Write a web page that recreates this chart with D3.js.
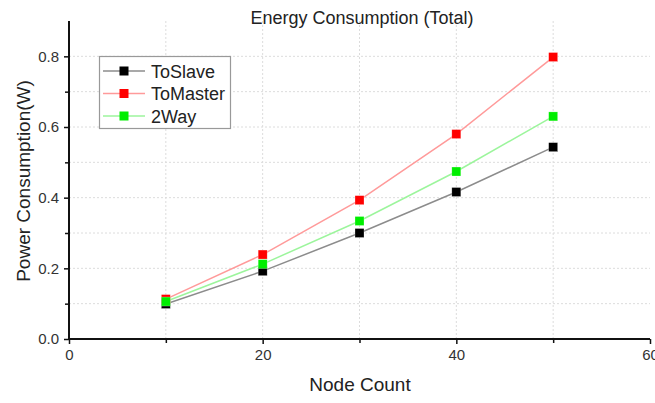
<!DOCTYPE html>
<html><head><meta charset="utf-8">
<script src="https://cdn.jsdelivr.net/npm/d3@7"></script>
<style>body{margin:0;background:#fff;}svg{display:block;font-family:"Liberation Sans",Arial,sans-serif;}</style>
</head><body>
<svg id="c" width="655" height="403"></svg>
<script>
const nodeCounts = [10, 20, 30, 40, 50];
const toSlave = [0.099, 0.192, 0.300, 0.416, 0.543];
const toMaster = [0.113, 0.239, 0.393, 0.580, 0.798];
const twoWay = [0.106, 0.212, 0.334, 0.474, 0.630];
const seriesNames = ["ToSlave", "ToMaster", "2Way"];
const xTicks = [0, 20, 40, 60];
const yTicks = [0.0, 0.2, 0.4, 0.6, 0.8];

const series = [
  {name: seriesNames[0], values: toSlave, line: "#8c8c8c", mark: "#000000"},
  {name: seriesNames[1], values: toMaster, line: "#ff9a9a", mark: "#ff0000"},
  {name: seriesNames[2], values: twoWay, line: "#9cf59c", mark: "#00ee00"}
];

const svg = d3.select("#c");
const x = d3.scaleLinear().domain([0, 60]).range([69, 650]);
const y = d3.scaleLinear().domain([0, 0.9]).range([339, 21]);

// grid
const g = svg.append("g");
g.selectAll(".gy").data(d3.range(1, 9).map(d => d / 10)).enter().append("line")
  .attr("x1", 69).attr("x2", 650).attr("y1", d => y(d)).attr("y2", d => y(d))
  .attr("stroke", "#dcdcdc").attr("stroke-dasharray", "2,2").attr("stroke-width", 1);
g.selectAll(".gx").data([10, 20, 30, 40, 50]).enter().append("line")
  .attr("y1", 21).attr("y2", 339).attr("x1", d => x(d)).attr("x2", d => x(d))
  .attr("stroke", "#dcdcdc").attr("stroke-dasharray", "2,2").attr("stroke-width", 1);

// axes
const xAxis = svg.append("g").attr("transform", "translate(0,339)")
  .call(d3.axisBottom(x).tickValues(xTicks).tickSize(5).tickPadding(5).tickFormat(d3.format("d")));
svg.append("g").attr("transform", "translate(0,339)")
  .call(d3.axisBottom(x).tickValues([10, 30, 50]).tickSize(4).tickFormat(""))
  .select(".domain").remove();
const yAxis = svg.append("g").attr("transform", "translate(69,0)")
  .call(d3.axisLeft(y).tickValues(yTicks).tickSize(5).tickPadding(5).tickFormat(d3.format(".1f")));
svg.append("g").attr("transform", "translate(69,0)")
  .call(d3.axisLeft(y).tickValues([0.1, 0.3, 0.5, 0.7]).tickSize(4).tickFormat(""))
  .select(".domain").remove();
svg.selectAll(".domain").attr("stroke", "#111").attr("stroke-width", 2);
svg.selectAll(".tick line").attr("stroke", "#111").attr("stroke-width", 1.5);
xAxis.selectAll("text").attr("font-size", 15).attr("fill", "#333").attr("font-family", "Liberation Sans, Arial, sans-serif");
yAxis.selectAll("text").attr("font-size", 15).attr("fill", "#333").attr("font-family", "Liberation Sans, Arial, sans-serif");
xAxis.select(".domain").attr("d", "M69,0H650");
yAxis.select(".domain").attr("d", "M0,339V21");

// lines & markers
const lineGen = d3.line().x((d, i) => x(nodeCounts[i])).y(d => y(d));
series.forEach(s => {
  svg.append("path").attr("d", lineGen(s.values)).attr("fill", "none")
    .attr("stroke", s.line).attr("stroke-width", 1.5);
});
series.forEach(s => {
  svg.selectAll(null).data(s.values).enter().append("rect")
    .attr("x", (d, i) => x(nodeCounts[i]) - 4.5).attr("y", d => y(d) - 4.5)
    .attr("width", 9).attr("height", 9).attr("fill", s.mark)
    .attr("stroke", "#fff").attr("stroke-opacity", 0.5).attr("stroke-width", 0.5);
});

// legend
const lg = svg.append("g");
lg.append("rect").attr("x", 99.5).attr("y", 56.5).attr("width", 131).attr("height", 72)
  .attr("fill", "#fff").attr("stroke", "#999").attr("stroke-width", 1.2);
series.forEach((s, i) => {
  const yy = 71 + i * 22.5;
  lg.append("line").attr("x1", 103).attr("x2", 145).attr("y1", yy).attr("y2", yy)
    .attr("stroke", s.line).attr("stroke-width", 1.5);
  lg.append("rect").attr("x", 119.5).attr("y", yy - 4.5).attr("width", 9).attr("height", 9).attr("fill", s.mark);
  lg.append("text").attr("x", 151).attr("y", yy + 6.5).attr("font-size", 18).attr("fill", "#222").text(s.name);
});

// titles
svg.append("text").attr("x", 362).attr("y", 24).attr("text-anchor", "middle")
  .attr("font-size", 18).attr("fill", "#222").text("Energy Consumption (Total)");
svg.append("text").attr("x", 360).attr("y", 391).attr("text-anchor", "middle")
  .attr("font-size", 19).attr("fill", "#222").text("Node Count");
svg.append("text").attr("transform", "translate(30,181) rotate(-90)").attr("text-anchor", "middle")
  .attr("font-size", 19).attr("fill", "#222").text("Power Consumption(W)");
</script>
</body></html>
